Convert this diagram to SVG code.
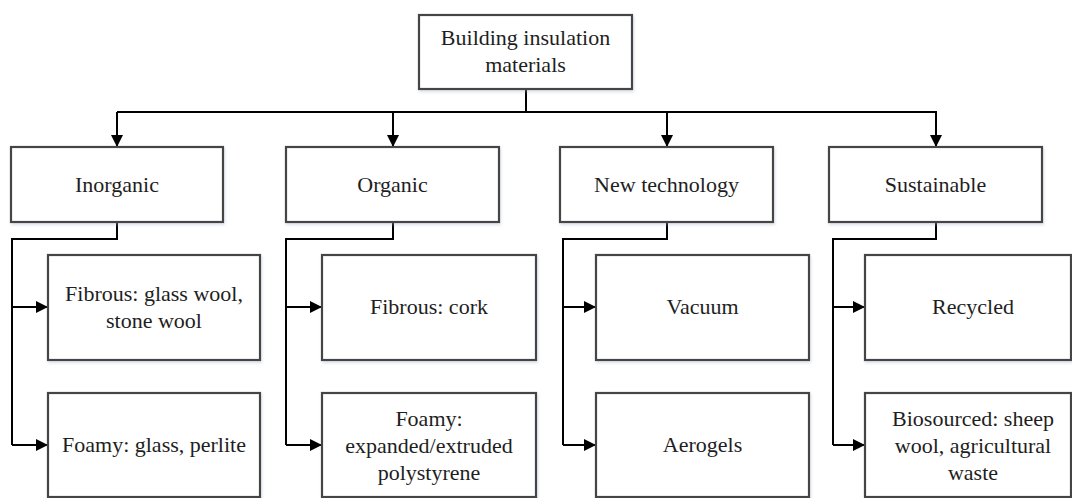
<svg xmlns="http://www.w3.org/2000/svg" width="1072" height="498" viewBox="0 0 1072 498">
<style>
.box{fill:#fff;stroke:#454545;stroke-width:2.2;filter:url(#sh)}
.t{font-family:'Liberation Serif','Times New Roman',Times,serif;font-size:22px;fill:#1e1e1e;text-anchor:middle}
.c{fill:none;stroke:#000;stroke-width:2}
</style>
<defs>
<filter id="sh" x="-5%" y="-5%" width="115%" height="120%">
<feDropShadow dx="1" dy="2" stdDeviation="1.5" flood-color="#9aa8c0" flood-opacity="0.35"/>
</filter>
<marker id="ar" markerUnits="userSpaceOnUse" markerWidth="14" markerHeight="14" refX="12" refY="6" orient="auto">
<path d="M0,0 L12,6 L0,12 Z" fill="#000"/>
</marker>
</defs>
<g id="connectors">
<path class="c" d="M526,89 V112"/>
<path class="c" d="M117,112 H937"/>
<path class="c" d="M117,112 V147" marker-end="url(#ar)"/>
<path class="c" d="M393,112 V147" marker-end="url(#ar)"/>
<path class="c" d="M667,112 V147" marker-end="url(#ar)"/>
<path class="c" d="M936,112 V147" marker-end="url(#ar)"/>
<path class="c" d="M117,222 V239 H12 V445"/>
<path class="c" d="M12,307 H48" marker-end="url(#ar)"/>
<path class="c" d="M12,445 H48" marker-end="url(#ar)"/>
<path class="c" d="M393,222 V239 H286 V445"/>
<path class="c" d="M286,307 H322" marker-end="url(#ar)"/>
<path class="c" d="M286,445 H322" marker-end="url(#ar)"/>
<path class="c" d="M667,222 V239 H563 V445"/>
<path class="c" d="M563,307 H596" marker-end="url(#ar)"/>
<path class="c" d="M563,445 H596" marker-end="url(#ar)"/>
<path class="c" d="M936,222 V239 H833 V445"/>
<path class="c" d="M833,307 H865" marker-end="url(#ar)"/>
<path class="c" d="M833,445 H865" marker-end="url(#ar)"/>
</g>
<g id="root">
<rect class="box" x="419" y="15" width="213" height="74"/>
<text class="t" x="525.5" y="45">Building insulation</text>
<text class="t" x="525.5" y="72">materials</text>
</g>
<g id="inorganic">
<rect class="box" x="11" y="147" width="212" height="75"/>
<text class="t" x="117" y="192">Inorganic</text>
</g>
<g id="organic">
<rect class="box" x="286" y="147" width="213" height="75"/>
<text class="t" x="392.5" y="192">Organic</text>
</g>
<g id="newtech">
<rect class="box" x="560" y="147" width="213" height="75"/>
<text class="t" x="666.5" y="192">New technology</text>
</g>
<g id="sustainable">
<rect class="box" x="829" y="147" width="213" height="75"/>
<text class="t" x="935.5" y="192">Sustainable</text>
</g>
<g id="inorg-fibrous">
<rect class="box" x="48" y="255" width="212" height="105"/>
<text class="t" x="154" y="301">Fibrous: glass wool,</text>
<text class="t" x="154" y="328">stone wool</text>
</g>
<g id="inorg-foamy">
<rect class="box" x="48" y="393" width="212" height="104"/>
<text class="t" x="154" y="452">Foamy: glass, perlite</text>
</g>
<g id="org-fibrous">
<rect class="box" x="322" y="255" width="214" height="105"/>
<text class="t" x="429" y="314">Fibrous: cork</text>
</g>
<g id="org-foamy">
<rect class="box" x="322" y="393" width="214" height="104"/>
<text class="t" x="429" y="426">Foamy:</text>
<text class="t" x="429" y="453">expanded/extruded</text>
<text class="t" x="429" y="480">polystyrene</text>
</g>
<g id="vacuum">
<rect class="box" x="596" y="255" width="213" height="105"/>
<text class="t" x="702.5" y="314">Vacuum</text>
</g>
<g id="aerogels">
<rect class="box" x="596" y="393" width="213" height="104"/>
<text class="t" x="702.5" y="452">Aerogels</text>
</g>
<g id="recycled">
<rect class="box" x="865" y="255" width="206" height="105"/>
<text class="t" x="973" y="314">Recycled</text>
</g>
<g id="biosourced">
<rect class="box" x="865" y="393" width="206" height="104"/>
<text class="t" x="973" y="426">Biosourced: sheep</text>
<text class="t" x="973" y="453">wool, agricultural</text>
<text class="t" x="973" y="480">waste</text>
</g>
</svg>
